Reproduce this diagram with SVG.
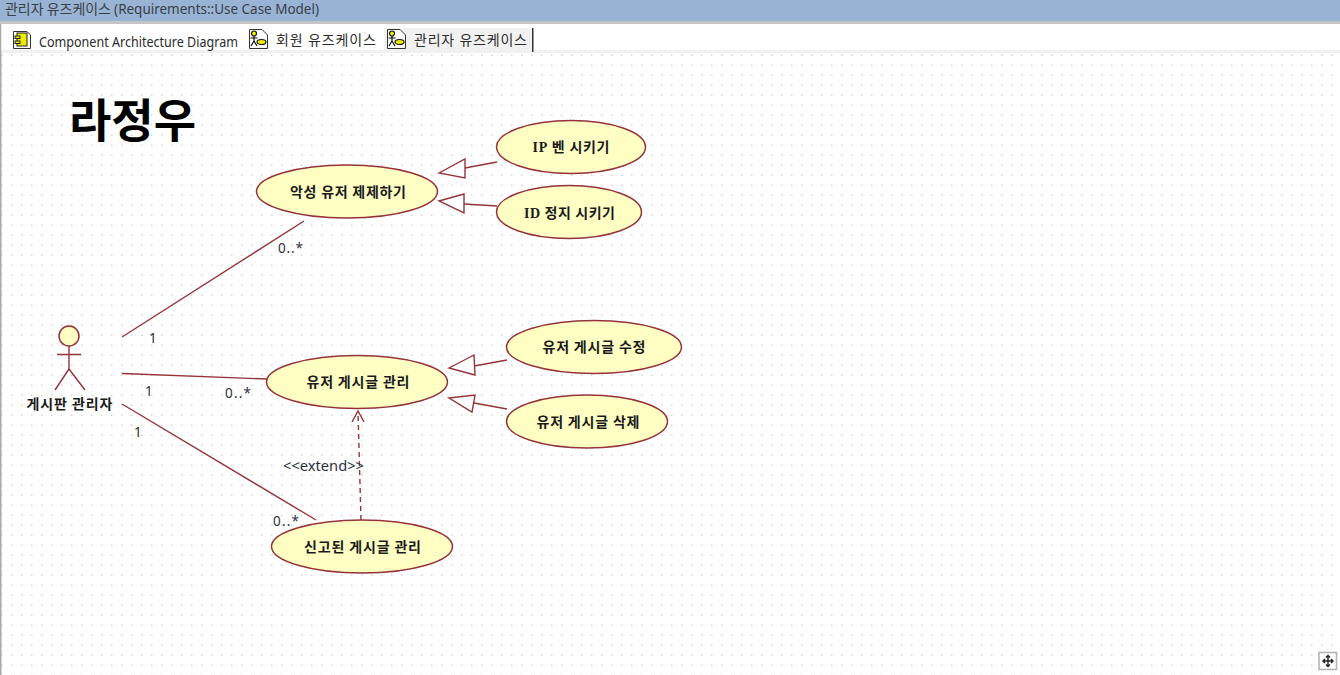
<svg xmlns="http://www.w3.org/2000/svg" width="1340" height="675" viewBox="0 0 1340 675">
<style>
.ui{font-family:"Noto Sans CJK KR","Noto Sans",sans-serif;font-size:14px;fill:#3a3f48}
.tab{font-family:"Noto Sans","Noto Sans CJK KR",sans-serif;font-size:14px;fill:#2c2c2c}
.uc{fill:#ffffc4;stroke:#96323a;stroke-width:1.5}
.lbl{font-family:"Noto Sans CJK KR",sans-serif;font-size:14px;font-weight:700;fill:#1a1a1a;text-anchor:middle}
.m{font-family:"Noto Sans","Liberation Sans",sans-serif;font-size:13.5px;fill:#2a3040}
.ln{fill:none;stroke:#96323a;stroke-width:1.4}
.tri{fill:#fff;stroke:#96323a;stroke-width:1.4}
</style>
<defs>
<pattern id="dots" width="10" height="10" patternUnits="userSpaceOnUse" x="1" y="5"><rect x="0" y="-0.500" width="1.500" height="1.500" fill="#d4d4d4"/><rect x="0" y="9.500" width="1.500" height="1" fill="#d4d4d4"/></pattern>
<g id="ucicon"><path d="M0.500 0.500H13L18.500 6V19.500H0.500Z" fill="#fff" stroke="#333"/><circle cx="5" cy="4.500" r="2.500" fill="#f0f000" stroke="#111" stroke-width="1.200"/><path d="M5 7v5M1.500 9h7M5 12l-3 5M5 12l3 5" fill="none" stroke="#111" stroke-width="1.200"/><ellipse cx="12.500" cy="13" rx="4.500" ry="2.500" fill="#f0f000" stroke="#111" stroke-width="1.200"/></g>
</defs>
<rect width="1340" height="675" fill="#fff"/>
<rect y="53" width="1340" height="622" fill="url(#dots)"/>
<rect width="1340" height="21" fill="#98b3d3"/>
<rect y="21" width="1340" height="3" fill="#c4c4c4"/>
<rect x="0" y="24" width="1.500" height="651" fill="#a8a8a8"/>
<rect x="1.500" y="24" width="1338.500" height="26" fill="#fff"/>
<rect x="1.500" y="50" width="1338.500" height="3" fill="#f0f0f0"/>
<text class="ui" x="5" y="14" textLength="314" lengthAdjust="spacingAndGlyphs">관리자 유즈케이스 <tspan font-family="Noto Sans" font-size="13.500">(Requirements::Use Case Model)</tspan></text>
<g id="tabs">
<rect x="384" y="28" width="148" height="22" fill="#f1f1f1"/>
<path d="M13.500 31.500H27L30.500 35V48.500H13.500Z" fill="#fff" stroke="#333"/><rect x="17" y="33" width="10" height="13" fill="#ecec00" stroke="#222"/><rect x="15" y="36" width="5" height="2.500" fill="#ecec00" stroke="#222"/><rect x="15" y="41" width="5" height="2.500" fill="#ecec00" stroke="#222"/>
<text class="tab" x="39" y="47" textLength="199" lengthAdjust="spacingAndGlyphs">Component Architecture Diagram</text>
<use href="#ucicon" x="249" y="29"/>
<text class="tab" x="276" y="45" textLength="100">회원 유즈케이스</text>
<use href="#ucicon" x="387" y="29"/>
<text class="tab" x="414" y="45" textLength="113">관리자 유즈케이스</text>
<rect x="532" y="28" width="1.500" height="24" fill="#333"/>
</g>
<text id="title" x="69" y="137" font-family="Noto Sans CJK KR,sans-serif" font-size="46" font-weight="700" fill="#000">라정우</text>
<g id="connectors">
<path class="ln" d="M122 337L304 221"/>
<path class="ln" d="M122 373.500L267 379"/>
<path class="ln" d="M122 404L316 520"/>
<path class="ln" d="M497 162L465 168"/>
<path class="ln" d="M497 206L464 204"/>
<path class="ln" d="M507 360L474 366"/>
<path class="ln" d="M507 409L474 403"/>
<path class="tri" d="M439 173L465 159L465 178Z"/>
<path class="tri" d="M439 201L464 194L464 213Z"/>
<path class="tri" d="M449 368L474 355L475 375Z"/>
<path class="tri" d="M449 398L475 395L472 412Z"/>
<path class="ln" stroke-dasharray="5 4" d="M361 520L358 412"/>
<path class="ln" d="M352 422L358 411L364 422"/>
</g>
<text class="m" x="278" y="253" textLength="25">0..*</text>
<text class="m" x="149" y="343">1</text>
<text class="m" x="145" y="396">1</text>
<text class="m" x="225" y="398" textLength="26">0..*</text>
<text class="m" x="134" y="437">1</text>
<text class="m" x="273" y="526" textLength="26">0..*</text>
<text class="m" x="283" y="471" textLength="81" lengthAdjust="spacingAndGlyphs">&lt;&lt;extend&gt;&gt;</text>
<g id="actor">
<circle cx="69" cy="336" r="10" fill="#ffffc4" stroke="#96323a" stroke-width="1.500"/>
<path class="ln" d="M69 346V369M57 354.500H81M69 369L55 390M69 369L85 390"/>
<text class="lbl" x="69.500" y="409" textLength="86">게시판 관리자</text>
</g>
<g id="uc1"><ellipse class="uc" cx="347" cy="191.500" rx="90.500" ry="26.500"/><text class="lbl" x="348" y="197" textLength="116">악성 유저 제제하기</text></g>
<g id="uc2"><ellipse class="uc" cx="571" cy="147" rx="74.500" ry="26.500"/><text class="lbl" x="571" y="152" textLength="77"><tspan font-family="Liberation Serif">IP</tspan> 벤 시키기</text></g>
<g id="uc3"><ellipse class="uc" cx="569" cy="212" rx="72.500" ry="26.500"/><text class="lbl" x="569.500" y="218" textLength="91"><tspan font-family="Liberation Serif">ID</tspan> 정지 시키기</text></g>
<g id="uc4"><ellipse class="uc" cx="357" cy="382" rx="90.500" ry="26.500"/><text class="lbl" x="358" y="387" textLength="103">유저 게시글 관리</text></g>
<g id="uc5"><ellipse class="uc" cx="594" cy="347" rx="87.500" ry="26.500"/><text class="lbl" x="594" y="352" textLength="103">유저 게시글 수정</text></g>
<g id="uc6"><ellipse class="uc" cx="587" cy="421.500" rx="80.500" ry="26.500"/><text class="lbl" x="588" y="427" textLength="103">유저 게시글 삭제</text></g>
<g id="uc7"><ellipse class="uc" cx="362" cy="546.500" rx="90.500" ry="26.500"/><text class="lbl" x="362.500" y="552" textLength="117">신고된 게시글 관리</text></g>
<g id="pan"><rect x="1319" y="652.500" width="17.500" height="17" fill="#fff" stroke="#b4b4b4" stroke-width="1.600"/><path d="M1328 655.500v11M1322.500 661h11M1326 657.500l2-2 2 2M1326 664.500l2 2 2-2M1325 659l-2 2 2 2M1331 659l2 2-2 2" fill="none" stroke="#222" stroke-width="1.400"/></g>
</svg>
